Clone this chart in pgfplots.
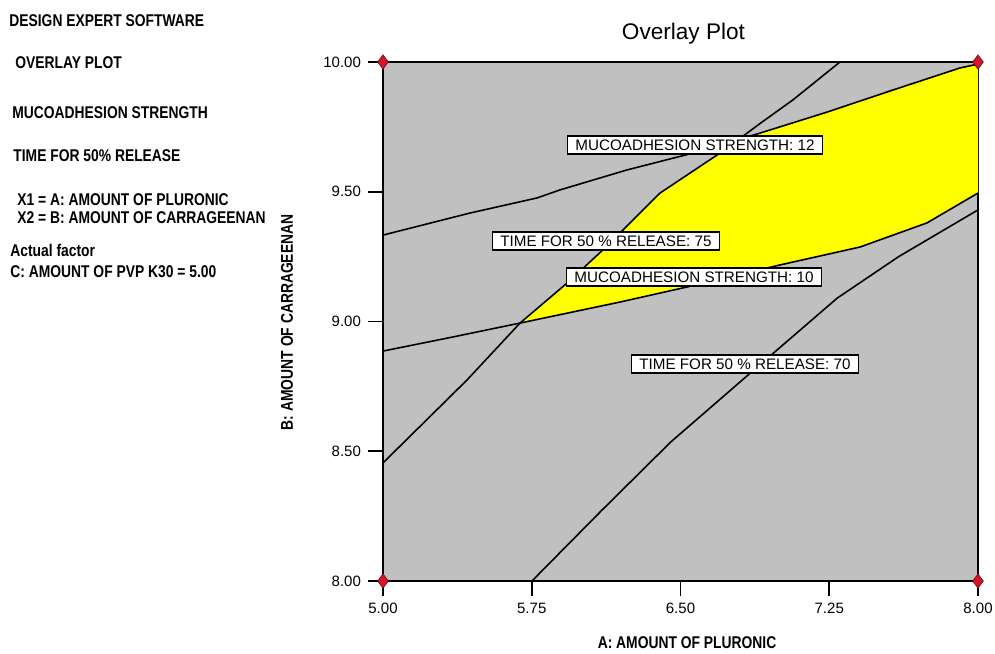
\documentclass[border=0pt]{standalone}
\usepackage{fontspec}
\setmainfont{Liberation Sans}
\newfontfamily\narrowbf[FakeStretch=0.815]{Liberation Sans Bold}
\usepackage{pgfplots}
\pgfplotsset{compat=1.18}
\definecolor{bggray}{RGB}{192,192,192}
\definecolor{dxred}{RGB}{215,20,45}
\definecolor{dxyellow}{RGB}{255,255,0}
\tikzset{labelbox/.style={draw=black, fill=white, line width=0.8pt, inner xsep=4pt, inner ysep=1.5pt,
    text height=5.5pt, text depth=0.5pt, font=\fontsize{7.6}{9}\selectfont}}
\begin{document}
\begin{tikzpicture}
\begin{axis}[
  scale only axis, width=297.5pt, height=259.5pt,
  xmin=5, xmax=8, ymin=8, ymax=10,
  axis background/.style={fill=bggray},
  axis line style={line width=0.9pt},
  tick pos=left, tick align=outside,
  every tick/.style={draw=black, line width=0.9pt},
  major tick length=7.5pt,
  xtick={5,5.75,6.5,7.25,8}, ytick={8,8.5,9,9.5,10},
  xticklabels={5.00,5.75,6.50,7.25,8.00},
  yticklabels={8.00,8.50,9.00,9.50,10.00},
  ticklabel style={font=\fontsize{7.5}{9}\selectfont},
  title={Overlay Plot},
  title style={font=\fontsize{11.3}{13}\selectfont, at={(axis description cs:0.505,1.0193)}, anchor=base},
  xlabel={A: AMOUNT OF PLURONIC},
  ylabel={B: AMOUNT OF CARRAGEENAN},
  every axis x label/.style={font=\narrowbf\fontsize{8.5}{10}\selectfont, at={(axis description cs:0.511,-0.131)}, anchor=base},
  every axis y label/.style={font=\narrowbf\fontsize{8.5}{10}\selectfont, at={(axis description cs:-0.1513,0.4985)}, rotate=90, anchor=base},
  clip=false,
]
% feasible (overlay) region
\addplot[draw=none, fill=dxyellow] coordinates {
  (5.691,8.994) (5.928,9.148) (6.109,9.276) (6.397,9.495) (6.699,9.649) (6.79,9.70)
  (6.901,9.726) (7.239,9.807) (7.571,9.892) (7.909,9.977) (8,9.992)
  (8,9.495) (7.743,9.380) (7.405,9.287) (7.002,9.218) (6.533,9.133) (6.195,9.075) (5.691,8.994)};
% Mucoadhesion strength 12
\addplot[black, line width=0.8pt] coordinates {
  (5,9.333) (5.439,9.418) (5.776,9.476) (5.892,9.507) (6.230,9.584) (6.563,9.649)
  (6.901,9.726) (7.239,9.807) (7.571,9.892) (7.909,9.977) (8,9.992)};
% Mucoadhesion strength 10
\addplot[black, line width=0.8pt] coordinates {
  (5,8.886) (5.35,8.94) (5.691,8.994) (6.195,9.075) (6.533,9.133) (7.002,9.218)
  (7.405,9.287) (7.743,9.380) (8,9.495)};
% Time for 50% release 75
\addplot[black, line width=0.8pt] coordinates {
  (5,8.455) (5.424,8.775) (5.691,8.994) (5.928,9.148) (6.109,9.276) (6.397,9.495)
  (6.699,9.649) (6.79,9.70) (6.901,9.763) (7.067,9.854) (7.304,10.0)};
% Time for 50% release 70
\addplot[black, line width=0.8pt] coordinates {
  (5.751,8.0) (6.1,8.27) (6.45,8.535) (6.85,8.80) (7.29,9.09) (7.6,9.25) (8,9.43)};
% outside tick marks
\addplot[black, line width=0.9pt, forget plot] coordinates {(5,8) (5,7.942)};
\addplot[black, line width=0.9pt, forget plot] coordinates {(5.75,8) (5.75,7.942)};
\addplot[black, line width=0.9pt, forget plot] coordinates {(6.5,8) (6.5,7.942)};
\addplot[black, line width=0.9pt, forget plot] coordinates {(7.25,8) (7.25,7.942)};
\addplot[black, line width=0.9pt, forget plot] coordinates {(8,8) (8,7.942)};
\addplot[black, line width=0.9pt, forget plot] coordinates {(5,8) (4.924,8)};
\addplot[black, line width=0.9pt, forget plot] coordinates {(5,8.5) (4.924,8.5)};
\addplot[black, line width=0.9pt, forget plot] coordinates {(5,9) (4.924,9)};
\addplot[black, line width=0.9pt, forget plot] coordinates {(5,9.5) (4.924,9.5)};
\addplot[black, line width=0.9pt, forget plot] coordinates {(5,10) (4.924,10)};
% contour labels
\node[labelbox] at (axis cs:6.573,9.680) {MUCOADHESION STRENGTH: 12};
\node[labelbox] at (axis cs:6.124,9.310) {TIME FOR 50 \% RELEASE: 75};
\node[labelbox] at (axis cs:6.568,9.171) {MUCOADHESION STRENGTH: 10};
\node[labelbox] at (axis cs:6.825,8.836) {TIME FOR 50 \% RELEASE: 70};
% design points at corners
\addplot[only marks, mark=diamond*, mark size=3.5pt,
  mark options={fill=dxred, draw=dxred!60!black, line width=0.4pt}] coordinates {
  (5,8) (5,10) (8,8) (8,10)};
\end{axis}
\begin{scope}[font=\narrowbf\fontsize{8.5}{10}\selectfont]
\node[anchor=base west, inner sep=0pt] at (-187pt,277pt) {DESIGN EXPERT SOFTWARE};
\node[anchor=base west, inner sep=0pt] at (-184pt,256pt) {OVERLAY PLOT};
\node[anchor=base west, inner sep=0pt] at (-185.5pt,231pt) {MUCOADHESION STRENGTH};
\node[anchor=base west, inner sep=0pt] at (-185pt,209.5pt) {TIME FOR 50\% RELEASE};
\node[anchor=base west, inner sep=0pt] at (-183pt,187.5pt) {X1 = A: AMOUNT OF PLURONIC};
\node[anchor=base west, inner sep=0pt] at (-183pt,178.5pt) {X2 = B: AMOUNT OF CARRAGEENAN};
\node[anchor=base west, inner sep=0pt] at (-186.5pt,162pt) {Actual factor};
\node[anchor=base west, inner sep=0pt] at (-186.5pt,151.5pt) {C: AMOUNT OF PVP K30 = 5.00};
\end{scope}
\pgfresetboundingbox
\path[use as bounding box] (-191.5pt,-36pt) rectangle (306pt,290.5pt);
\end{tikzpicture}
\end{document}
